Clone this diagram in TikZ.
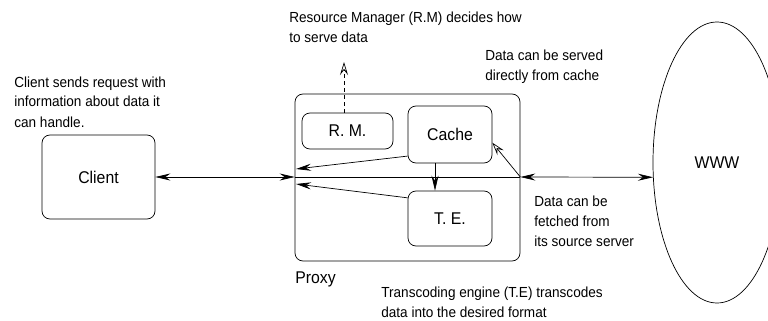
\documentclass[tikz,border=0pt]{standalone}
\usepackage{fontspec}
\setmainfont{Liberation Sans}
\newfontfamily\notefont[FakeStretch=0.93]{Liberation Sans}
\usetikzlibrary{arrows.meta, positioning, shapes.geometric}

\begin{document}
\begin{tikzpicture}[x=1pt, y=-1pt, line width=0.7pt,
  >={Stealth[length=15pt, width=7pt, inset=5pt]},
  box/.style={draw, rounded corners=8pt, inner sep=0pt, font={\notefont\fontsize{17}{20}\selectfont}},
  note/.style={anchor=base west, align=left, inner sep=0pt, font={\notefont\fontsize{14.6}{20}\selectfont}},
  openhead/.style={-{Stealth[open, length=13pt, width=8pt, inset=5pt]}}]
  \useasboundingbox (0,0) rectangle (768,321);

  % boxes
  \node[box, minimum width=113, minimum height=84] (client) at (98.5,177) {Client};
  \node[box, minimum width=225, minimum height=167] (proxy) at (407.5,177.5) {};
  \node[box, minimum width=91, minimum height=36] (rm) at (347.5,131) {R. M.};
  \node[box, minimum width=84, minimum height=57] (cache) at (450,134.5) {Cache};
  \node[box, minimum width=84, minimum height=55] (te) at (450,218.5) {T. E.};
  \node[draw, ellipse, inner sep=0pt, minimum width=128, minimum height=281,
    font={\notefont\fontsize{17}{20}\selectfont}] (www) at (717,162.5) {WWW};

  % connectors
  \coordinate (pl) at (proxy.west |- client.east);
  \coordinate (pr) at (proxy.east |- client.east);
  \coordinate (rmtip) at (344,62);
  \coordinate (cachein) at (296,169);
  \coordinate (tein) at (296,184);
  \draw (pl) -- (pr);
  \draw[<->] (client.east) -- (pl);
  \draw[<->] (pr) -- (www.193);
  \draw[openhead, dash pattern=on 4pt off 3pt] ([xshift=-3.5]rm.north) -- (rmtip);
  \draw[->] (cache.207) -- (cachein);
  \draw[->] (te.154) -- (tein);
  \draw[->] ([xshift=-15]cache.south) -- ([xshift=-15]te.north);
  \draw[openhead] (pr) -- (cache.-11);

  % notes (anchored at the baseline of the last line)
  \node[note] (rmnote) at (289,43) {Resource Manager (R.M) decides how\\to serve data};
  \node[note] (cachenote) at (485,81) {Data can be served\\directly from cache};
  \node[note] (clientnote) at (14,127) {Client sends request with\\information about data it\\can handle.};
  \node[note] (fetchnote) at (534,246) {Data can be\\fetched from\\its source server};
  \node[note, font={\notefont\fontsize{17}{20}\selectfont}] (proxylbl) at (295,283) {Proxy};
  \node[note] (tenote) at (381,317) {Transcoding engine (T.E) transcodes\\data into the desired format};
\end{tikzpicture}
\end{document}
